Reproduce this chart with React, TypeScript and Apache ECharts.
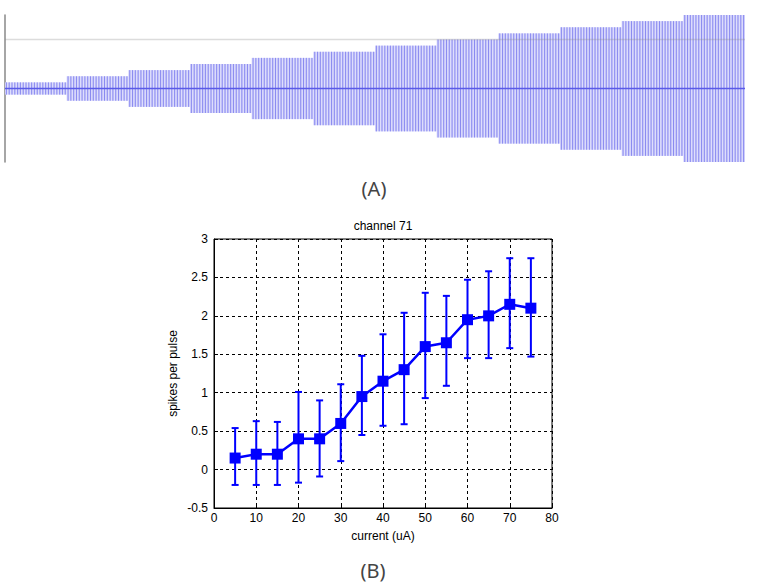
import React, { useEffect, useRef } from "react";
import * as echarts from "echarts";

// Panel A: stimulus pulse train (amplitude per step, uA)
const stepAmplitudes = [5, 10, 15, 20, 25, 30, 35, 40, 45, 50, 55, 60];
const PULSES_PER_STEP = 22;
const thresholdLevel = 40;

// Panel B: spikes per pulse vs current
const currents = [5, 10, 15, 20, 25, 30, 35, 40, 45, 50, 55, 60, 65, 70, 75];
const meanSpikes = [0.15, 0.2, 0.2, 0.4, 0.4, 0.6, 0.95, 1.15, 1.3, 1.6, 1.65, 1.95, 2.0, 2.15, 2.1];
const errLow = [-0.2, -0.2, -0.2, -0.17, -0.09, 0.11, 0.45, 0.57, 0.59, 0.93, 1.09, 1.45, 1.45, 1.58, 1.47];
const errHigh = [0.54, 0.63, 0.62, 1.01, 0.9, 1.11, 1.48, 1.76, 2.04, 2.3, 2.26, 2.47, 2.58, 2.75, 2.75];

const xTicksB = { min: 0, max: 80, interval: 10 };
const yTicksB = { min: -0.5, max: 3, interval: 0.5 };

export default function App() {
  const ref = useRef<HTMLDivElement>(null);

  useEffect(() => {
    if (!ref.current) return;
    const chart = echarts.init(ref.current, null, { renderer: "svg" });

    const totalPulses = stepAmplitudes.length * PULSES_PER_STEP;
    const pulses: number[][] = [];
    stepAmplitudes.forEach((a, s) => {
      for (let k = 0; k < PULSES_PER_STEP; k++) pulses.push([s * PULSES_PER_STEP + k, a]);
    });

    const font = "'Liberation Sans', Arial, sans-serif";

    chart.setOption({
      animation: false,
      backgroundColor: "#fff",
      grid: [
        { left: 5, width: 740, top: 15, height: 147 },
        {
          left: 214, right: 211, top: 239, bottom: 79,
          show: true, borderColor: "#000", borderWidth: 1, backgroundColor: "transparent",
        },
      ],
      xAxis: [
        { gridIndex: 0, type: "value", min: 0, max: totalPulses, show: false },
        {
          gridIndex: 1, type: "value", ...xTicksB,
          name: "current (uA)", nameLocation: "middle", nameGap: 22,
          nameTextStyle: { fontSize: 12, color: "#000", fontFamily: font },
          axisLine: { show: true, onZero: false, lineStyle: { color: "#000", width: 1 } },
          axisTick: { show: true, inside: true, length: 4, lineStyle: { color: "#000" } },
          axisLabel: { fontSize: 12, color: "#000", fontFamily: font, margin: 4 },
          splitLine: { show: true, lineStyle: { color: "#000", type: [3, 3], width: 1 } },
        },
      ],
      yAxis: [
        {
          gridIndex: 0, type: "value", min: -60, max: 60,
          axisLine: { show: true, onZero: false, lineStyle: { color: "#888", width: 1.5 } },
          axisTick: { show: false }, axisLabel: { show: false }, splitLine: { show: false },
        },
        {
          gridIndex: 1, type: "value", ...yTicksB,
          name: "spikes per pulse", nameLocation: "middle", nameGap: 35,
          nameTextStyle: { fontSize: 12, color: "#000", fontFamily: font },
          axisLine: { show: true, onZero: false, lineStyle: { color: "#000", width: 1 } },
          axisTick: { show: true, inside: true, length: 4, lineStyle: { color: "#000" } },
          axisLabel: { fontSize: 12, color: "#000", fontFamily: font, margin: 6 },
          splitLine: { show: true, lineStyle: { color: "#000", type: [3, 3], width: 1 } },
        },
      ],
      series: [
        {
          type: "custom",
          xAxisIndex: 0, yAxisIndex: 0,
          data: pulses,
          renderItem: (params: any, api: any) => {
            const i = api.value(0);
            const a = api.value(1);
            const p1 = api.coord([i, a]);
            const p2 = api.coord([i, -a]);
            const p3 = api.coord([i + 1, a]);
            const w = p3[0] - p1[0];
            return {
              type: "group",
              children: [
                { type: "rect", shape: { x: p1[0], y: p1[1], width: w, height: p2[1] - p1[1] }, style: { fill: "#d4d4fb" } },
                { type: "line", shape: { x1: p1[0] + w * 0.5, y1: p1[1], x2: p1[0] + w * 0.5, y2: p2[1] }, style: { stroke: "#8a8af0", lineWidth: 1 } },
              ],
            };
          },
          z: 2,
        },
        {
          type: "line", xAxisIndex: 0, yAxisIndex: 0,
          data: [[0, thresholdLevel], [totalPulses, thresholdLevel]],
          symbol: "none", lineStyle: { color: "rgba(140,140,140,0.3)", width: 1.5 }, z: 3,
        },
        {
          type: "line", xAxisIndex: 0, yAxisIndex: 0,
          data: [[0, 0], [totalPulses, 0]],
          symbol: "none", lineStyle: { color: "#5a5ae8", width: 1.5 }, z: 4,
        },
        {
          type: "custom",
          xAxisIndex: 1, yAxisIndex: 1,
          data: currents.map((c, i) => [c, errLow[i], errHigh[i]]),
          renderItem: (params: any, api: any) => {
            const x = api.value(0);
            const lo = api.coord([x, api.value(1)]);
            const hi = api.coord([x, api.value(2)]);
            const hw = 3.5;
            const st = { stroke: "#0000ff", lineWidth: 2 };
            return {
              type: "group",
              children: [
                { type: "line", shape: { x1: lo[0], y1: lo[1], x2: hi[0], y2: hi[1] }, style: st },
                { type: "line", shape: { x1: lo[0] - hw, y1: lo[1], x2: lo[0] + hw, y2: lo[1] }, style: st },
                { type: "line", shape: { x1: hi[0] - hw, y1: hi[1], x2: hi[0] + hw, y2: hi[1] }, style: st },
              ],
            };
          },
          z: 5,
        },
        {
          type: "line", xAxisIndex: 1, yAxisIndex: 1,
          data: currents.map((c, i) => [c, meanSpikes[i]]),
          symbol: "rect", symbolSize: 11,
          itemStyle: { color: "#0000ff" },
          lineStyle: { color: "#0000ff", width: 2.5 },
          z: 6,
        },
      ],
      graphic: [
        { type: "text", x: 383, y: 226, style: { text: "channel 71", fontSize: 12, fill: "#000", fontFamily: font, align: "center", verticalAlign: "middle" } },
        { type: "text", x: 374, y: 188, style: { text: "(A)", fontSize: 20, fill: "#444", fontFamily: "'Noto Sans', sans-serif", align: "center", verticalAlign: "middle" } },
        { type: "text", x: 373, y: 570, style: { text: "(B)", fontSize: 20, fill: "#444", fontFamily: "'Noto Sans', sans-serif", align: "center", verticalAlign: "middle" } },
      ],
    });

    return () => chart.dispose();
  }, []);

  return <div ref={ref} style={{ position: "fixed", left: 0, top: 0, width: 763, height: 587 }} />;
}
